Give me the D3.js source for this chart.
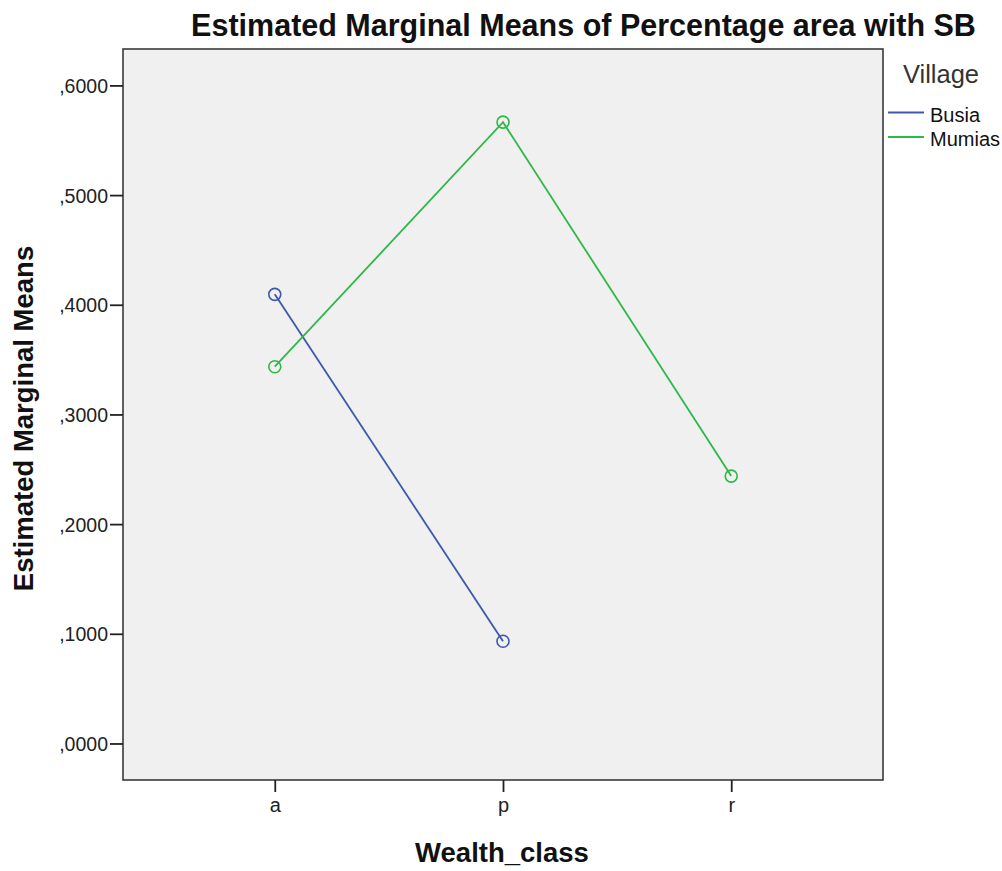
<!DOCTYPE html>
<html><head><meta charset="utf-8">
<script src="https://cdn.jsdelivr.net/npm/d3@7"></script>
<style>body{margin:0;background:#fff}svg{display:block;font-family:"Liberation Sans",Arial,sans-serif}</style>
</head><body>
<svg id="c" width="1002" height="871"></svg>
<script>
const categories = ["a","p","r"];
const seriesNames = ["Busia","Mumias"];
const busia = [0.4095, 0.0932, null];
const mumias = [0.3435, 0.5665, 0.2438];
const yTicks = [0,0.1,0.2,0.3,0.4,0.5,0.6];
const colors = ["#3E58AC","#2EB848"];

const svg = d3.select("#c");
const L=123,R=883,T=49,B=780;
const x = d3.scalePoint().domain(categories).range([L,R]).padding(0.665);
const y = d3.scaleLinear().domain([-0.0333,0.6332]).range([B,T]);

svg.append("rect").attr("x",L).attr("y",T).attr("width",R-L).attr("height",B-T)
  .attr("fill","#f0f0f0").attr("stroke","#3a3a3a").attr("stroke-width",1.6);

const fmt = v => "," + d3.format(".4f")(v).split(".")[1];
const ya = svg.append("g").attr("transform",`translate(${L},0)`)
  .call(d3.axisLeft(y).tickValues(yTicks).tickFormat(fmt).tickSize(13).tickPadding(2));
ya.select(".domain").remove();
ya.selectAll("line").attr("stroke","#222").attr("stroke-width",1.8);
ya.selectAll("text").attr("font-size",19.5).attr("fill","#222").attr("dy","0.36em")
  .attr("font-family","Liberation Sans, Arial, sans-serif");

const xa = svg.append("g").attr("transform",`translate(0,${B})`)
  .call(d3.axisBottom(x).tickSize(12).tickPadding(6));
xa.select(".domain").remove();
xa.selectAll("line").attr("stroke","#222").attr("stroke-width",1.8);
xa.selectAll("text").attr("font-size",20).attr("fill","#222")
  .attr("font-family","Liberation Sans, Arial, sans-serif");

const series = [busia, mumias];
series.forEach((vals,i)=>{
  const pts = categories.map((c,j)=>({c,v:vals[j]})).filter(d=>d.v!=null);
  svg.append("path").datum(pts)
    .attr("d", d3.line().x(d=>x(d.c)).y(d=>y(d.v)))
    .attr("fill","none").attr("stroke",colors[i]).attr("stroke-width",1.8);
  svg.selectAll(null).data(pts).enter().append("circle")
    .attr("cx",d=>x(d.c)).attr("cy",d=>y(d.v)).attr("r",6)
    .attr("fill","none").attr("stroke",colors[i]).attr("stroke-width",1.6);
});

svg.append("text").attr("x",583.5).attr("y",36).attr("text-anchor","middle")
  .attr("font-size",30.5).attr("font-weight","bold").attr("fill","#111")
  .text("Estimated Marginal Means of Percentage area with SB");
svg.append("text").attr("x",x("p")-1).attr("y",862).attr("text-anchor","middle")
  .attr("font-size",27.5).attr("font-weight","bold").attr("fill","#111")
  .text("Wealth_class");
svg.append("text").attr("transform",`translate(33,418.5) rotate(-90)`)
  .attr("text-anchor","middle").attr("font-size",27.5).attr("font-weight","bold").attr("fill","#111")
  .text("Estimated Marginal Means");

svg.append("text").attr("x",941).attr("y",83).attr("text-anchor","middle")
  .attr("font-size",25.5).attr("fill","#333").text("Village");
seriesNames.forEach((n,i)=>{
  const yy = 112.5 + i*24.5;
  svg.append("line").attr("x1",888).attr("x2",924).attr("y1",yy).attr("y2",yy)
    .attr("stroke",colors[i]).attr("stroke-width",2.2);
  svg.append("text").attr("x",930).attr("y",yy+9).attr("font-size",20).attr("fill","#111").text(n);
});
</script>
</body></html>
